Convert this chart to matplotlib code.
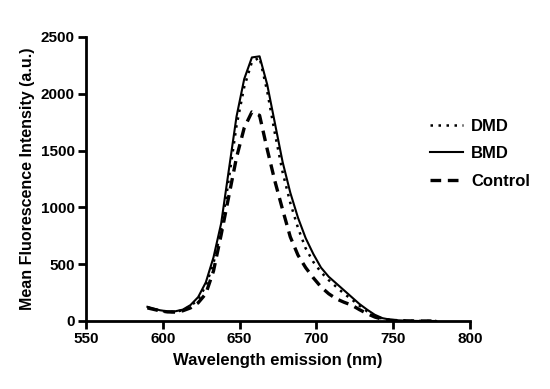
import matplotlib
matplotlib.use("Agg")
import matplotlib.pyplot as plt

plt.rcParams['font.family'] = ['Liberation Sans', 'DejaVu Sans']

wavelength = [590, 598, 603, 608, 613, 618, 623, 628, 633, 638, 643, 648, 653, 658, 663,
              668, 673, 678, 683, 688, 693, 698, 703, 708, 713, 718, 723, 728, 733, 738,
              743, 748, 753, 758, 763, 768, 773, 778]
bmd = [125, 95, 85, 85, 100, 140, 210, 340, 560, 860, 1330, 1800, 2130, 2320, 2330,
       2080, 1740, 1400, 1130, 910, 730, 590, 470, 390, 330, 270, 210, 150, 100, 55,
       25, 12, 6, 3, 1, 0, 0, 0]
dmd = [120, 90, 80, 80, 95, 130, 190, 310, 510, 800, 1250, 1720, 2060, 2280, 2320,
       2020, 1650, 1310, 1040, 820, 640, 520, 430, 360, 300, 240, 190, 135, 85, 45,
       20, 10, 5, 2, 1, 0, 0, 0]
control = [115, 90, 80, 78, 90, 115, 160, 240, 440, 760, 1100, 1440, 1700, 1840, 1810,
           1510, 1230, 980, 740, 580, 470, 380, 300, 240, 195, 165, 140, 100, 65, 35,
           15, 7, 3, 1, 0, 0, 0, 0]

fig = plt.figure(figsize=(5.5, 3.89), dpi=100)
ax = fig.add_axes([86/550, 1-321/389, (470-86)/550, (321-37)/389])

ax.plot(wavelength, dmd, color='black', lw=1.8, linestyle=(0, (1, 2.2)), label='DMD')
ax.plot(wavelength, bmd, color='black', lw=1.5, linestyle='-', label='BMD')
ax.plot(wavelength, control, color='black', lw=2.4, linestyle=(0, (3.2, 2.0)), label='Control')

ax.set_xlim(550, 800)
ax.set_ylim(0, 2500)
ax.set_xticks([550, 600, 650, 700, 750, 800])
ax.set_yticks([0, 500, 1000, 1500, 2000, 2500])
for s in ['top', 'right']:
    ax.spines[s].set_visible(False)
for s in ['left', 'bottom']:
    ax.spines[s].set_linewidth(2.0)
ax.tick_params(direction='out', length=6, width=2.0, labelsize=11, pad=2)
for lab in ax.get_xticklabels() + ax.get_yticklabels():
    lab.set_fontweight('bold')

ax.set_xlabel('Wavelength emission (nm)', fontsize=12, fontweight='bold', labelpad=5)
ax.set_ylabel('Mean Fluorescence Intensity (a.u.)', fontsize=11.5, fontweight='bold', labelpad=4)

leg = ax.legend(loc='upper left', bbox_to_anchor=((423-86)/384, (321-112)/284),
                frameon=False, handlelength=2.0, handletextpad=0.5, labelspacing=0.75,
                borderaxespad=0, prop={'weight': 'bold', 'size': 12})

fig.savefig('out.png', dpi=100)
